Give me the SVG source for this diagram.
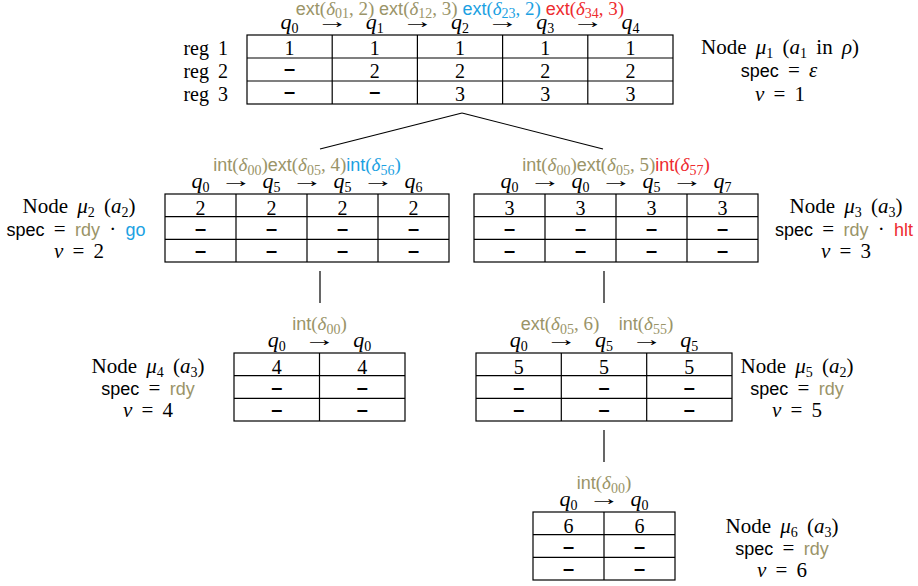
<svg xmlns="http://www.w3.org/2000/svg" width="918" height="586" viewBox="0 0 918 586">
<style>
text{font-family:"Liberation Serif","DejaVu Serif",serif;font-size:20px;fill:#000}
.c{text-anchor:middle}
.e{text-anchor:end}
.i{font-style:italic}
.q{font-size:22px;font-style:italic}
.ar{font-family:"Liberation Serif",serif;font-size:20px;text-anchor:middle}
.sb{font-size:14px;font-style:normal}
.sf{font-family:"Liberation Sans","DejaVu Sans",sans-serif;font-size:18px}
.ol{fill:#9a9468}
.cy{fill:#1ba1e2}
.rd{fill:#ee2b2f}
.d{font-family:"Liberation Sans","DejaVu Sans",sans-serif;font-weight:bold;font-size:20px}
.lab{font-size:19px}
.nl{font-size:21px;word-spacing:4px}
.grid{fill:none;stroke:#000;stroke-width:1.2}
#connectors path{fill:none;stroke:#000;stroke-width:1.2}
</style>
<rect width="918" height="586" fill="#fff"/>

<g id="connectors">
<path d="M462 113L320 149"/>
<path d="M462 113L603 149"/>
<path d="M320 271V303"/>
<path d="M604 271V303"/>
<path d="M604 430V462"/>
</g>

<g id="node-mu1">
<text class="c lab" x="460" y="15"><tspan class="ol"><tspan class="sf">ext</tspan>(<tspan class="i">δ</tspan><tspan class="sb" dy="3">01</tspan><tspan dy="-3">, 2)</tspan></tspan> <tspan class="ol"><tspan class="sf">ext</tspan>(<tspan class="i">δ</tspan><tspan class="sb" dy="3">12</tspan><tspan dy="-3">, 3)</tspan></tspan> <tspan class="cy"><tspan class="sf">ext</tspan>(<tspan class="i">δ</tspan><tspan class="sb" dy="3">23</tspan><tspan dy="-3">, 2)</tspan></tspan> <tspan class="rd"><tspan class="sf">ext</tspan>(<tspan class="i">δ</tspan><tspan class="sb" dy="3">34</tspan><tspan dy="-3">, 3)</tspan></tspan></text>
<text class="c q" x="289.6" y="29">q<tspan class="sb" dy="4">0</tspan></text>
<text class="ar" transform="translate(332.2 28) scale(1.6 1)">→</text>
<text class="c q" x="374.8" y="29">q<tspan class="sb" dy="4">1</tspan></text>
<text class="ar" transform="translate(417.4 28) scale(1.6 1)">→</text>
<text class="c q" x="460" y="29">q<tspan class="sb" dy="4">2</tspan></text>
<text class="ar" transform="translate(502.6 28) scale(1.6 1)">→</text>
<text class="c q" x="545.2" y="29">q<tspan class="sb" dy="4">3</tspan></text>
<text class="ar" transform="translate(587.8 28) scale(1.6 1)">→</text>
<text class="c q" x="630.4" y="29">q<tspan class="sb" dy="4">4</tspan></text>
<text class="e" x="228" y="55" style="word-spacing:4px">reg 1</text>
<text class="e" x="228" y="78" style="word-spacing:4px">reg 2</text>
<text class="e" x="228" y="101" style="word-spacing:4px">reg 3</text>
<rect class="grid" x="247" y="35" width="426" height="69"/>
<path class="grid" d="M247 58H673M247 81H673M332.2 35V104M417.4 35V104M502.6 35V104M587.8 35V104"/>
<text class="c" x="289.6" y="55">1</text>
<text class="c" x="374.8" y="55">1</text>
<text class="c" x="460" y="55">1</text>
<text class="c" x="545.2" y="55">1</text>
<text class="c" x="630.4" y="55">1</text>
<text class="c d" x="289.6" y="75">–</text>
<text class="c" x="374.8" y="78">2</text>
<text class="c" x="460" y="78">2</text>
<text class="c" x="545.2" y="78">2</text>
<text class="c" x="630.4" y="78">2</text>
<text class="c d" x="289.6" y="98">–</text>
<text class="c d" x="374.8" y="98">–</text>
<text class="c" x="460" y="101">3</text>
<text class="c" x="545.2" y="101">3</text>
<text class="c" x="630.4" y="101">3</text>
<text class="c nl" x="780" y="54">Node <tspan class="i">μ</tspan><tspan class="sb" dy="4">1</tspan><tspan dy="-4"> (</tspan><tspan class="i">a</tspan><tspan class="sb" dy="4">1</tspan><tspan dy="-4"> in </tspan><tspan class="i">ρ</tspan>)</text>
<text class="c nl" x="779" y="77"><tspan class="sf">spec</tspan> = <tspan class="i">ε</tspan></text>
<text class="c nl" x="780" y="101"><tspan class="i">v</tspan> = 1</text>
</g>

<g id="node-mu2">
<text class="c lab" x="307" y="171"><tspan class="ol"><tspan class="sf">int</tspan>(<tspan class="i">δ</tspan><tspan class="sb" dy="4">00</tspan><tspan dy="-4">)</tspan><tspan class="sf">ext</tspan>(<tspan class="i">δ</tspan><tspan class="sb" dy="4">05</tspan><tspan dy="-4">, 4)</tspan></tspan><tspan class="cy"><tspan class="sf">int</tspan>(<tspan class="i">δ</tspan><tspan class="sb" dy="4">56</tspan><tspan dy="-4">)</tspan></tspan></text>
<text class="c q" x="200.5" y="188">q<tspan class="sb" dy="4">0</tspan></text>
<text class="ar" transform="translate(236 187) scale(1.6 1)">→</text>
<text class="c q" x="271.5" y="188">q<tspan class="sb" dy="4">5</tspan></text>
<text class="ar" transform="translate(307 187) scale(1.6 1)">→</text>
<text class="c q" x="342.5" y="188">q<tspan class="sb" dy="4">5</tspan></text>
<text class="ar" transform="translate(378 187) scale(1.6 1)">→</text>
<text class="c q" x="413.5" y="188">q<tspan class="sb" dy="4">6</tspan></text>
<rect class="grid" x="165" y="194" width="284" height="68"/>
<path class="grid" d="M165 216.7H449M165 239.3H449M236 194V262M307 194V262M378 194V262"/>
<text class="c" x="200.5" y="215">2</text>
<text class="c" x="271.5" y="215">2</text>
<text class="c" x="342.5" y="215">2</text>
<text class="c" x="413.5" y="215">2</text>
<text class="c d" x="200.5" y="234.5">–</text>
<text class="c d" x="271.5" y="234.5">–</text>
<text class="c d" x="342.5" y="234.5">–</text>
<text class="c d" x="413.5" y="234.5">–</text>
<text class="c d" x="200.5" y="257">–</text>
<text class="c d" x="271.5" y="257">–</text>
<text class="c d" x="342.5" y="257">–</text>
<text class="c d" x="413.5" y="257">–</text>
<text class="c nl" x="79" y="213">Node <tspan class="i">μ</tspan><tspan class="sb" dy="4">2</tspan><tspan dy="-4"> (</tspan><tspan class="i">a</tspan><tspan class="sb" dy="4">2</tspan><tspan dy="-4">)</tspan></text>
<text class="c nl" x="76" y="236"><tspan class="sf">spec</tspan> = <tspan class="sf ol">rdy</tspan> · <tspan class="sf cy">go</tspan></text>
<text class="c nl" x="79" y="258"><tspan class="i">v</tspan> = 2</text>
</g>

<g id="node-mu3">
<text class="c lab" x="616" y="171"><tspan class="ol"><tspan class="sf">int</tspan>(<tspan class="i">δ</tspan><tspan class="sb" dy="4">00</tspan><tspan dy="-4">)</tspan><tspan class="sf">ext</tspan>(<tspan class="i">δ</tspan><tspan class="sb" dy="4">05</tspan><tspan dy="-4">, 5)</tspan></tspan><tspan class="rd"><tspan class="sf">int</tspan>(<tspan class="i">δ</tspan><tspan class="sb" dy="4">57</tspan><tspan dy="-4">)</tspan></tspan></text>
<text class="c q" x="509.5" y="188">q<tspan class="sb" dy="4">0</tspan></text>
<text class="ar" transform="translate(545 187) scale(1.6 1)">→</text>
<text class="c q" x="580.5" y="188">q<tspan class="sb" dy="4">0</tspan></text>
<text class="ar" transform="translate(616 187) scale(1.6 1)">→</text>
<text class="c q" x="651.5" y="188">q<tspan class="sb" dy="4">5</tspan></text>
<text class="ar" transform="translate(687 187) scale(1.6 1)">→</text>
<text class="c q" x="722.5" y="188">q<tspan class="sb" dy="4">7</tspan></text>
<rect class="grid" x="474" y="194" width="284" height="68"/>
<path class="grid" d="M474 216.7H758M474 239.3H758M545 194V262M616 194V262M687 194V262"/>
<text class="c" x="509.5" y="215">3</text>
<text class="c" x="580.5" y="215">3</text>
<text class="c" x="651.5" y="215">3</text>
<text class="c" x="722.5" y="215">3</text>
<text class="c d" x="509.5" y="234.5">–</text>
<text class="c d" x="580.5" y="234.5">–</text>
<text class="c d" x="651.5" y="234.5">–</text>
<text class="c d" x="722.5" y="234.5">–</text>
<text class="c d" x="509.5" y="257">–</text>
<text class="c d" x="580.5" y="257">–</text>
<text class="c d" x="651.5" y="257">–</text>
<text class="c d" x="722.5" y="257">–</text>
<text class="c nl" x="846" y="213">Node <tspan class="i">μ</tspan><tspan class="sb" dy="4">3</tspan><tspan dy="-4"> (</tspan><tspan class="i">a</tspan><tspan class="sb" dy="4">3</tspan><tspan dy="-4">)</tspan></text>
<text class="c nl" x="844" y="236"><tspan class="sf">spec</tspan> = <tspan class="sf ol">rdy</tspan> · <tspan class="sf rd">hlt</tspan></text>
<text class="c nl" x="846" y="258"><tspan class="i">v</tspan> = 3</text>
</g>

<g id="node-mu4">
<text class="c lab" x="319.5" y="330"><tspan class="ol"><tspan class="sf">int</tspan>(<tspan class="i">δ</tspan><tspan class="sb" dy="4">00</tspan><tspan dy="-4">)</tspan></tspan></text>
<text class="c q" x="276.75" y="347">q<tspan class="sb" dy="4">0</tspan></text>
<text class="ar" transform="translate(319.5 346) scale(1.6 1)">→</text>
<text class="c q" x="362.25" y="347">q<tspan class="sb" dy="4">0</tspan></text>
<rect class="grid" x="234" y="353" width="171" height="68"/>
<path class="grid" d="M234 375.7H405M234 398.3H405M319.5 353V421"/>
<text class="c" x="276.75" y="374">4</text>
<text class="c" x="362.25" y="374">4</text>
<text class="c d" x="276.75" y="393.5">–</text>
<text class="c d" x="362.25" y="393.5">–</text>
<text class="c d" x="276.75" y="416">–</text>
<text class="c d" x="362.25" y="416">–</text>
<text class="c nl" x="148" y="373">Node <tspan class="i">μ</tspan><tspan class="sb" dy="4">4</tspan><tspan dy="-4"> (</tspan><tspan class="i">a</tspan><tspan class="sb" dy="4">3</tspan><tspan dy="-4">)</tspan></text>
<text class="c nl" x="148" y="395"><tspan class="sf">spec</tspan> = <tspan class="sf ol">rdy</tspan></text>
<text class="c nl" x="148" y="417"><tspan class="i">v</tspan> = 4</text>
</g>

<g id="node-mu5">
<text class="c lab" x="560" y="330"><tspan class="ol"><tspan class="sf">ext</tspan>(<tspan class="i">δ</tspan><tspan class="sb" dy="4">05</tspan><tspan dy="-4">, 6)</tspan></tspan></text>
<text class="c lab" x="646" y="330"><tspan class="ol"><tspan class="sf">int</tspan>(<tspan class="i">δ</tspan><tspan class="sb" dy="4">55</tspan><tspan dy="-4">)</tspan></tspan></text>
<text class="c q" x="518.7" y="347">q<tspan class="sb" dy="4">0</tspan></text>
<text class="ar" transform="translate(561.3 346) scale(1.6 1)">→</text>
<text class="c q" x="604" y="347">q<tspan class="sb" dy="4">5</tspan></text>
<text class="ar" transform="translate(646.7 346) scale(1.6 1)">→</text>
<text class="c q" x="689.3" y="347">q<tspan class="sb" dy="4">5</tspan></text>
<rect class="grid" x="476" y="353" width="256" height="68"/>
<path class="grid" d="M476 375.7H732M476 398.3H732M561.3 353V421M646.7 353V421"/>
<text class="c" x="518.7" y="374">5</text>
<text class="c" x="604" y="374">5</text>
<text class="c" x="689.3" y="374">5</text>
<text class="c d" x="518.7" y="393.5">–</text>
<text class="c d" x="604" y="393.5">–</text>
<text class="c d" x="689.3" y="393.5">–</text>
<text class="c d" x="518.7" y="416">–</text>
<text class="c d" x="604" y="416">–</text>
<text class="c d" x="689.3" y="416">–</text>
<text class="c nl" x="797" y="373">Node <tspan class="i">μ</tspan><tspan class="sb" dy="4">5</tspan><tspan dy="-4"> (</tspan><tspan class="i">a</tspan><tspan class="sb" dy="4">2</tspan><tspan dy="-4">)</tspan></text>
<text class="c nl" x="797" y="395"><tspan class="sf">spec</tspan> = <tspan class="sf ol">rdy</tspan></text>
<text class="c nl" x="797" y="417"><tspan class="i">v</tspan> = 5</text>
</g>

<g id="node-mu6">
<text class="c lab" x="604" y="489"><tspan class="ol"><tspan class="sf">int</tspan>(<tspan class="i">δ</tspan><tspan class="sb" dy="4">00</tspan><tspan dy="-4">)</tspan></tspan></text>
<text class="c q" x="568.5" y="506">q<tspan class="sb" dy="4">0</tspan></text>
<text class="ar" transform="translate(604 505) scale(1.6 1)">→</text>
<text class="c q" x="639.5" y="506">q<tspan class="sb" dy="4">0</tspan></text>
<rect class="grid" x="533" y="512" width="142" height="68"/>
<path class="grid" d="M533 534.7H675M533 557.3H675M604 512V580"/>
<text class="c" x="568.5" y="533">6</text>
<text class="c" x="639.5" y="533">6</text>
<text class="c d" x="568.5" y="552.5">–</text>
<text class="c d" x="639.5" y="552.5">–</text>
<text class="c d" x="568.5" y="575">–</text>
<text class="c d" x="639.5" y="575">–</text>
<text class="c nl" x="782" y="533">Node <tspan class="i">μ</tspan><tspan class="sb" dy="4">6</tspan><tspan dy="-4"> (</tspan><tspan class="i">a</tspan><tspan class="sb" dy="4">3</tspan><tspan dy="-4">)</tspan></text>
<text class="c nl" x="782" y="555"><tspan class="sf">spec</tspan> = <tspan class="sf ol">rdy</tspan></text>
<text class="c nl" x="782" y="577"><tspan class="i">v</tspan> = 6</text>
</g>
</svg>
